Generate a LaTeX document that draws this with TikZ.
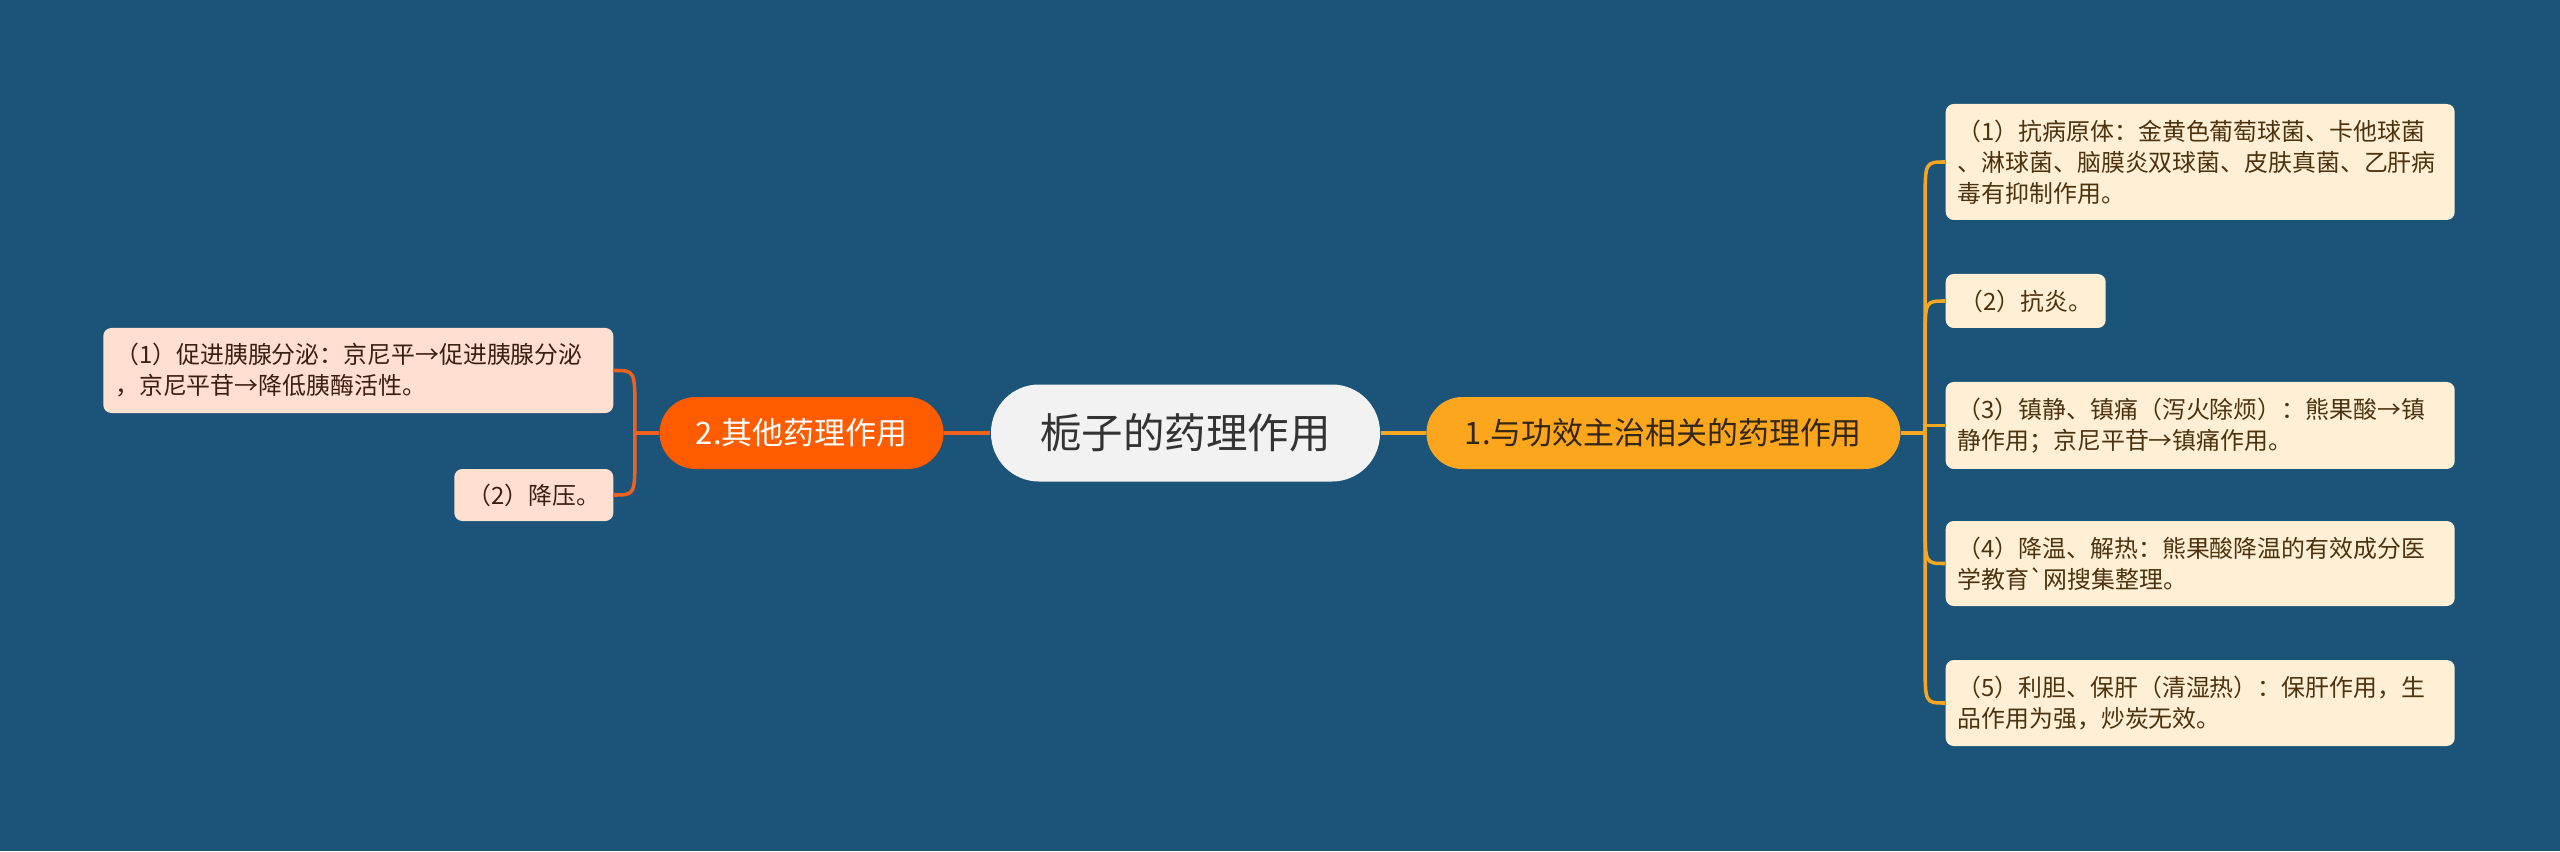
\documentclass[tikz,border=0pt]{standalone}
\usepackage{fontspec}
\setmainfont{Noto Sans CJK SC}[Ligatures=TeXOff]
\usepackage{tikz}
\usepackage{xcolor}
\usetikzlibrary{positioning}
\usetikzlibrary{calc}
\definecolor{bgcolor}{RGB}{27, 84, 120}
\definecolor{rootcolor}{RGB}{242, 242, 242}
\definecolor{roottext}{RGB}{51, 51, 51}
\definecolor{onecolor}{RGB}{252, 166, 30}
\definecolor{onetext}{RGB}{51, 38, 20}
\definecolor{twocolor}{RGB}{255, 92, 0}
\definecolor{oneleaf}{RGB}{255, 240, 213}
\definecolor{oneleaftext}{RGB}{77, 50, 16}
\definecolor{twoleaf}{RGB}{255, 224, 208}
\definecolor{twoleaftext}{RGB}{58, 32, 16}
\definecolor{oneline}{RGB}{245, 166, 35}
\definecolor{twoline}{RGB}{240, 96, 30}
\tikzstyle{rootnode} = [
	fill=rootcolor,
	text=roottext,
	rounded corners=0.48cm,
	minimum width=3.89cm,
	minimum height=0.97cm,
	font=\fontsize{11.8}{14}\selectfont
]
\tikzstyle{branchA} = [
	fill=onecolor,
	text=onetext,
	rounded corners=0.36cm,
	minimum width=4.74cm,
	minimum height=0.72cm,
	font=\fontsize{8.8}{11}\selectfont
]
\tikzstyle{branchB} = [
	fill=twocolor,
	text=white,
	rounded corners=0.36cm,
	minimum width=2.84cm,
	minimum height=0.72cm,
	font=\fontsize{8.8}{11}\selectfont
]
\tikzstyle{leafA} = [
	fill=oneleaf,
	text=oneleaftext,
	rounded corners=0.08cm,
	align=left,
	inner xsep=0.12cm,
	inner ysep=0.08cm,
	font=\fontsize{6.8}{8.8}\selectfont
]
\tikzstyle{leafB} = [
	fill=twoleaf,
	text=twoleaftext,
	rounded corners=0.08cm,
	align=left,
	inner xsep=0.12cm,
	inner ysep=0.08cm,
	font=\fontsize{6.8}{8.8}\selectfont
]
\tikzstyle{lineA} = [
	draw=oneline,
	line width=1pt
]
\tikzstyle{lineB} = [
	draw=twoline,
	line width=1pt
]

\begin{document}
\begin{tikzpicture}[node distance=0.45cm and 0.45cm]

	\fill[bgcolor] (0,0) rectangle (25.6,8.51);
	\useasboundingbox (0,0) rectangle (25.6,8.51);

	%
	% Centre and main branches
	\node[rootnode] (root) at (11.855,4.18) {栀子的药理作用};
	\node[branchA, right=0.45cm of root] (B1) {1.与功效主治相关的药理作用};
	\node[branchB, left=0.46cm of root] (B2) {2.其他药理作用};
	\coordinate[right=0.24cm of B1] (T1);
	\coordinate[left=0.24cm of B2] (T2);

	%
	% Leaves of branch 1
	\node[leafA, anchor=west, text width=4.85cm, minimum height=1.16cm] at (19.45,6.89) (L1) {（1）抗病原体：金黄色葡萄球菌、卡他球菌\\、淋球菌、脑膜炎双球菌、皮肤真菌、乙肝病\\毒有抑制作用。};
	\node[leafA, anchor=west, minimum width=1.6cm, minimum height=0.54cm] at (19.45,5.50) (L2) {（2）抗炎。};
	\node[leafA, anchor=west, text width=4.85cm, minimum height=0.87cm] at (19.45,4.255) (L3) {（3）镇静、镇痛（泻火除烦）：熊果酸→镇\\静作用；京尼平苷→镇痛作用。};
	\node[leafA, anchor=west, text width=4.85cm, minimum height=0.85cm] at (19.45,2.875) (L4) {（4）降温、解热：熊果酸降温的有效成分医\\学教育`网搜集整理。};
	\node[leafA, anchor=west, text width=4.85cm, minimum height=0.86cm] at (19.45,1.48) (L5) {（5）利胆、保肝（清湿热）：保肝作用，生\\品作用为强，炒炭无效。};

	%
	% Leaves of branch 2
	\node[leafB, anchor=east, text width=4.86cm, minimum height=0.85cm] at (6.14,4.805) (M1) {（1）促进胰腺分泌：京尼平→促进胰腺分泌\\，京尼平苷→降低胰酶活性。};
	\node[leafB, anchor=east, minimum width=1.59cm, minimum height=0.52cm] at (6.14,3.56) (M2) {（2）降压。};

	%
	% Connectors

	% root to branches
	\draw[lineA] (root) -- (B1);
	\draw[lineB] (root) -- (B2);
	\draw[lineA] (B1) -- (T1);
	\draw[lineB] (B2) -- (T2);

	% branch 1 to leaves
	\draw[lineA] (T1) -- ($(T1 |- L1.west)+(0,-0.4)$) .. controls (T1 |- L1.west) .. (L1.west);
	\draw[lineA] (T1) -- ($(T1 |- L2.west)+(0,-0.4)$) .. controls (T1 |- L2.west) .. (L2.west);
	\draw[lineA] (T1) |- (L3.west);
	\draw[lineA] (T1) -- ($(T1 |- L4.west)+(0,0.4)$) .. controls (T1 |- L4.west) .. (L4.west);
	\draw[lineA] (T1) -- ($(T1 |- L5.west)+(0,0.4)$) .. controls (T1 |- L5.west) .. (L5.west);

	% branch 2 to leaves
	\draw[lineB] (T2) -- ($(T2 |- M1.east)+(0,-0.4)$) .. controls (T2 |- M1.east) .. (M1.east);
	\draw[lineB] (T2) -- ($(T2 |- M2.east)+(0,0.4)$) .. controls (T2 |- M2.east) .. (M2.east);

\end{tikzpicture}
\end{document}
